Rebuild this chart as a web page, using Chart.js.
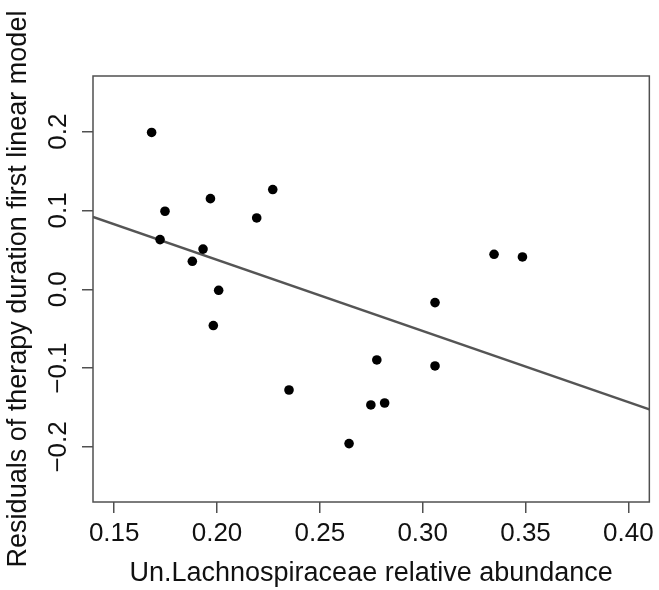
<!DOCTYPE html>
<html>
<head>
<meta charset="utf-8">
<script src="https://cdn.jsdelivr.net/npm/chart.js@4"></script>
<style>
  html, body { margin: 0; padding: 0; background: #fff; }
  #wrap { width: 659px; height: 590px; }
</style>
</head>
<body>
<div id="wrap"><canvas id="myChart" width="659" height="590"></canvas></div>
<script>
// abundance (x) and residuals (y) of each sample
const abundance = [0.1682, 0.1747, 0.1723, 0.1968, 0.1932, 0.1880, 0.2008, 0.1982, 0.2193, 0.2271,
  0.2350, 0.2642, 0.2748, 0.2815, 0.2777, 0.3060, 0.3060, 0.3347, 0.3485]
const residuals = [0.199, 0.099, 0.063, 0.115, 0.051, 0.0355, -0.0013, -0.046, 0.0905, 0.1265,
  -0.1278, -0.1958, -0.1468, -0.1443, -0.0897, -0.0169, -0.0973, 0.0444, 0.041]

// fitted line, its two ends at the edges of the plot
const fitX = [0.1397, 0.4102]
const fitY = [0.0918, -0.1523]

const xTicks = [0.15, 0.20, 0.25, 0.30, 0.35, 0.40]
const yTicks = [-0.2, -0.1, 0.0, 0.1, 0.2]

const fontFam = "'Liberation Sans', Arial, sans-serif"
const gray = '#505050'

function fmt(v, d) {
  let s = Math.abs(v).toFixed(d)
  return v < -1e-9 ? '\u2212' + s : s
}

const boxPlugin = {
  id: 'box',
  afterDraw(chart) {
    const a = chart.chartArea
    const ctx = chart.ctx
    ctx.save()
    ctx.strokeStyle = gray
    ctx.lineWidth = 1.5
    ctx.strokeRect(a.left, a.top, a.right - a.left, a.bottom - a.top)
    ctx.restore()
  }
}

let data = {
  datasets: [{
    type: 'scatter',
    label: 'samples',
    data: abundance.map((x, i) => ({ x: x, y: residuals[i] })),
    backgroundColor: '#000',
    borderColor: '#000',
    borderWidth: 0,
    pointRadius: 4.8,
    pointHoverRadius: 4.8,
    order: 1
  }, {
    type: 'line',
    label: 'fit',
    data: fitX.map((x, i) => ({ x: x, y: fitY[i] })),
    borderColor: '#555',
    borderWidth: 2.5,
    pointRadius: 0,
    fill: false,
    order: 2
  }]
}

let config = {
  type: 'scatter',
  data: data,
  plugins: [boxPlugin],
  options: {
    responsive: false,
    animation: false,
    events: [],
    layout: { padding: { top: 76, right: 9, left: 0, bottom: 0 } },
    plugins: {
      legend: { display: false },
      tooltip: { enabled: false }
    },
    scales: {
      x: {
        type: 'linear',
        min: 0.1397,
        max: 0.4102,
        afterBuildTicks: s => { s.ticks = xTicks.map(v => ({ value: v })) },
        afterFit: s => { s.height = 88 },
        border: { display: false },
        grid: { drawOnChartArea: false, drawTicks: true, tickLength: 11, color: gray, lineWidth: 1.5 },
        ticks: {
          autoSkip: false,
          maxRotation: 0,
          padding: 5,
          color: '#111',
          font: { family: fontFam, size: 26 },
          callback: v => fmt(v, 2)
        },
        title: {
          display: true,
          text: 'Un.Lachnospiraceae relative abundance',
          color: '#111',
          font: { family: fontFam, size: 27 },
          padding: { top: 0, bottom: 0 }
        }
      },
      y: {
        type: 'linear',
        min: -0.2699,
        max: 0.2706,
        afterBuildTicks: s => { s.ticks = yTicks.map(v => ({ value: v })) },
        afterFit: s => { s.width = 93 },
        border: { display: false },
        grid: { drawOnChartArea: false, drawTicks: true, tickLength: 11, color: gray, lineWidth: 1.5 },
        ticks: {
          autoSkip: false,
          minRotation: 90,
          maxRotation: 90,
          crossAlign: 'center',
          padding: -2,
          color: '#111',
          font: { family: fontFam, size: 26 },
          callback: v => fmt(v, 1)
        },
        title: {
          display: true,
          text: 'Residuals of therapy duration first linear model',
          color: '#111',
          font: { family: fontFam, size: 27 },
          padding: { top: 2, bottom: 0 }
        }
      }
    }
  }
}

let myChart = new Chart(document.getElementById('myChart'), config)
</script>
</body>
</html>
